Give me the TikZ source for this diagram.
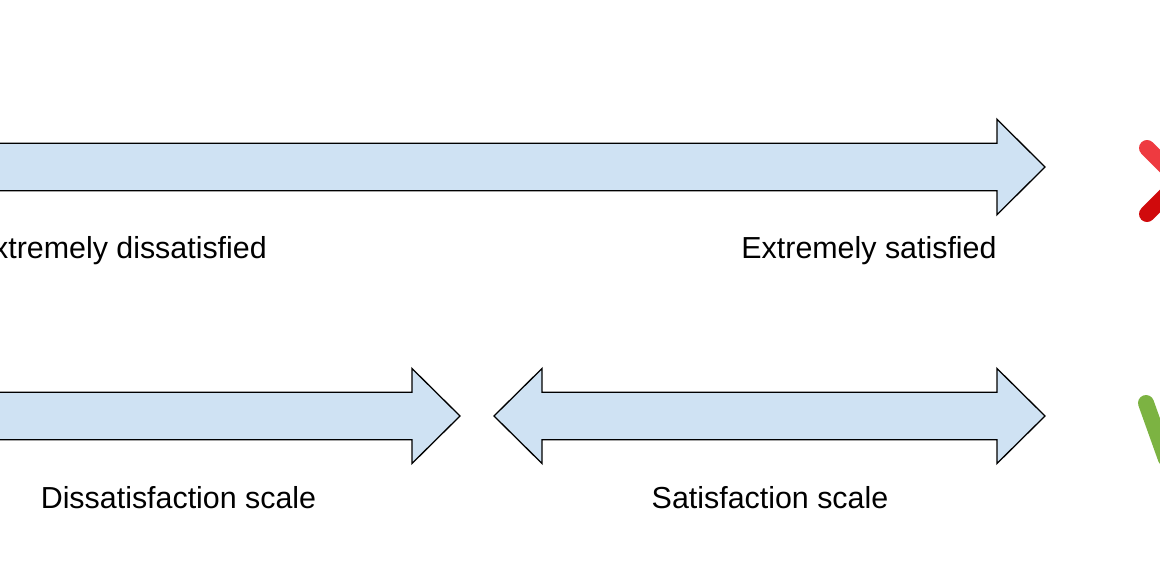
\documentclass[tikz,border=0pt]{standalone}
\usepackage{fontspec}
\setmainfont{Liberation Sans}
\begin{document}
\begin{tikzpicture}[x=1pt,y=-1pt,
  bigarrow/.style={draw=black, line width=1.3pt, fill=arrowblue, line join=miter},
  lbl/.style={inner sep=0pt, anchor=base, font=\fontsize{30.4}{36}\selectfont},
  iconstroke/.style={line width=16pt, line cap=round}]
\definecolor{arrowblue}{HTML}{CFE2F3}
\definecolor{xred}{HTML}{EE3A40}
\definecolor{xdark}{HTML}{D00A0C}
\definecolor{chkgreen}{HTML}{7CB342}
\useasboundingbox (0,0) rectangle (1160,586);
\clip (0,0) rectangle (1160,586);
% top long arrow
\path[bigarrow] (-20,143.3) -- (997,143.3) -- (997,119.3) -- (1045,167) -- (997,214.7) -- (997,190.7) -- (-20,190.7) -- cycle;
% bottom left arrow
\path[bigarrow] (-20,392.3) -- (412,392.3) -- (412,368.5) -- (460,416) -- (412,463.5) -- (412,439.7) -- (-20,439.7) -- cycle;
% double arrow
\path[bigarrow] (494,416) -- (542,368.5) -- (542,392.3) -- (997,392.3) -- (997,368.5) -- (1045,416) -- (997,463.5) -- (997,439.7) -- (542,439.7) -- (542,463.5) -- cycle;
% labels
\node[lbl, anchor=base east] (ed) at (267,258.5) {Extremely dissatisfied};
\node[lbl] (es) at (869,258.5) {Extremely satisfied};
\node[lbl] (ds) at (178.5,508) {Dissatisfaction scale};
\node[lbl] (ss) at (770,508) {Satisfaction scale};
% red cross icon
\draw[iconstroke, xred] (1147,148) -- (1213,214);
\draw[iconstroke, xdark] (1147,214) -- (1213,148);
% green check icon
\draw[iconstroke, chkgreen, line join=round] (1146,403) -- (1166,459) -- (1230,371);
\end{tikzpicture}
\end{document}
